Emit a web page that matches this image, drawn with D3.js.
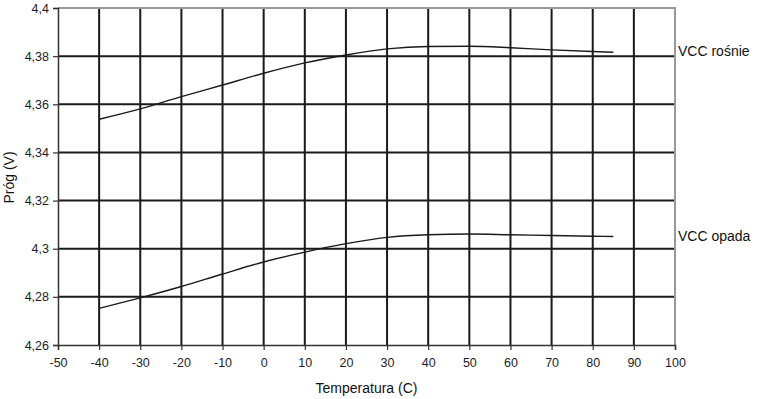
<!DOCTYPE html>
<html>
<head>
<meta charset="utf-8">
<script src="https://cdn.jsdelivr.net/npm/d3@7"></script>
<style>
  body { margin: 0; background: #fff; }
  svg { font-family: "Liberation Sans", Arial, sans-serif; }
</style>
</head>
<body>
<div id="container"></div>
<script>
/* CONSTANTS AND GLOBALS */
const width = 763,
  height = 399,
  margin = { top: 8, right: 88, bottom: 54, left: 58 };

// DATA
const temps = [-40, -30, -20, -10, 0, 10, 20, 30, 40, 50, 60, 70, 80, 85];
const vccRising = [4.3538, 4.3581, 4.3632, 4.3680, 4.3729, 4.3772, 4.3805, 4.3830, 4.3840, 4.3841, 4.3835, 4.3826, 4.3819, 4.3816];
const vccFalling = [4.2752, 4.2796, 4.2843, 4.2895, 4.2945, 4.2986, 4.3021, 4.3047, 4.3058, 4.3061, 4.3058, 4.3055, 4.3052, 4.3051];
const seriesNames = ["VCC rośnie", "VCC opada"];
const xTicks = d3.range(-50, 101, 10);
const yTicks = [4.26, 4.28, 4.30, 4.32, 4.34, 4.36, 4.38, 4.40];

const innerW = width - margin.left - margin.right,
  innerH = height - margin.top - margin.bottom;

const xScale = d3.scaleLinear().domain([-50, 100]).range([0, innerW]);
const yScale = d3.scaleLinear().domain([4.26, 4.4]).range([innerH, 0]);

const fmt = v => d3.format("~g")(+v.toFixed(2)).replace(".", ",");

const svg = d3.select("#container").append("svg")
  .attr("width", width)
  .attr("height", height);

const g = svg.append("g")
  .attr("transform", `translate(${margin.left},${margin.top})`);

// grid lines
g.selectAll("line.vgrid")
  .data(xTicks.slice(1, -1))
  .join("line")
  .attr("class", "vgrid")
  .attr("x1", d => xScale(d)).attr("x2", d => xScale(d))
  .attr("y1", 0).attr("y2", innerH)
  .attr("stroke", "#1a1a1a")
  .attr("stroke-width", 2);

g.selectAll("line.hgrid")
  .data(yTicks.slice(1, -1))
  .join("line")
  .attr("class", "hgrid")
  .attr("x1", 0).attr("x2", innerW)
  .attr("y1", d => yScale(d)).attr("y2", d => yScale(d))
  .attr("stroke", "#1a1a1a")
  .attr("stroke-width", 2);

// top and right border (gray)
g.append("path")
  .attr("d", `M0,0H${innerW}V${innerH}`)
  .attr("fill", "none")
  .attr("stroke", "#999")
  .attr("stroke-width", 2);

// axes
const xAxis = g.append("g")
  .attr("transform", `translate(0,${innerH})`)
  .call(d3.axisBottom(xScale).tickValues(xTicks).tickSize(5).tickPadding(8).tickFormat(d => d));

const yAxis = g.append("g")
  .call(d3.axisLeft(yScale).tickValues(yTicks).tickSize(5).tickPadding(4).tickFormat(fmt));

[xAxis, yAxis].forEach(a => {
  a.select(".domain").attr("stroke", "#333").attr("stroke-width", 1.5);
  a.selectAll(".tick line").attr("stroke", "#333").attr("stroke-width", 1.2);
  a.selectAll("text").attr("font-size", 12.5).attr("fill", "#1c1c2c")
    .attr("font-family", "Liberation Sans, Arial, sans-serif");
});

// curves
const line = d3.line()
  .x((d, i) => xScale(temps[i]))
  .y(d => yScale(d))
  .curve(d3.curveMonotoneX);

const series = [vccRising, vccFalling];

g.selectAll("path.curve")
  .data(series)
  .join("path")
  .attr("class", "curve")
  .attr("d", d => line(d))
  .attr("fill", "none")
  .attr("stroke", "#1a1a1a")
  .attr("stroke-width", 1.4);

// series labels, next to the end of each curve
g.selectAll("text.series")
  .data(series)
  .join("text")
  .attr("class", "series")
  .attr("x", innerW + 3)
  .attr("y", d => yScale(d[d.length - 1]))
  .attr("dy", "0.3em")
  .attr("font-size", 14)
  .attr("fill", "#111")
  .text((d, i) => seriesNames[i]);

// axis titles
svg.append("text")
  .attr("x", margin.left + innerW / 2)
  .attr("y", 393)
  .attr("text-anchor", "middle")
  .attr("font-size", 14)
  .attr("fill", "#111")
  .text("Temperatura (C)");

svg.append("text")
  .attr("transform", `translate(14,${margin.top + innerH / 2 + 1}) rotate(-90)`)
  .attr("text-anchor", "middle")
  .attr("font-size", 14)
  .attr("fill", "#111")
  .text("Próg (V)");
</script>
</body>
</html>
